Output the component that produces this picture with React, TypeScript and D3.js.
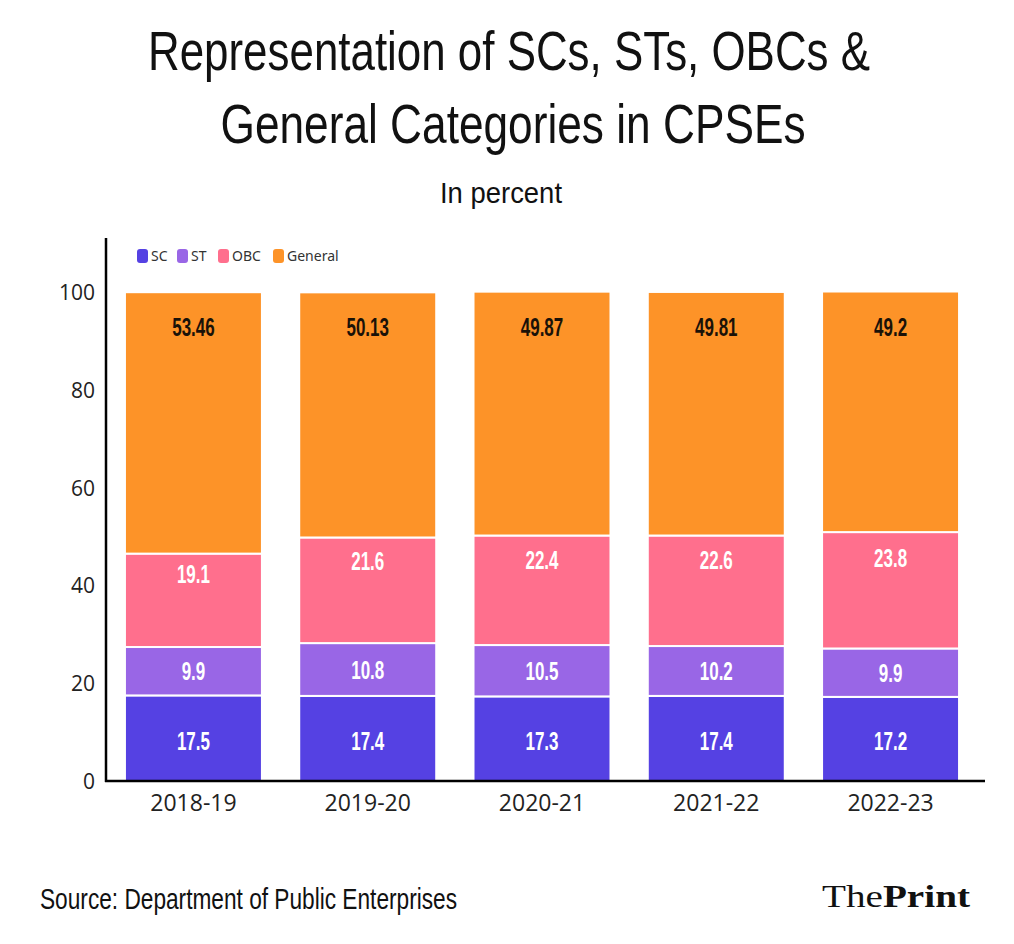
import React from "react";
import * as d3 from "d3";

const years = ["2018-19", "2019-20", "2020-21", "2021-22", "2022-23"];
const seriesNames = ["SC", "ST", "OBC", "General"];
const scValues = [17.5, 17.4, 17.3, 17.4, 17.2];
const stValues = [9.9, 10.8, 10.5, 10.2, 9.9];
const obcValues = [19.1, 21.6, 22.4, 22.6, 23.8];
const generalValues = [53.46, 50.13, 49.87, 49.81, 49.2];
const yTicks = [0, 20, 40, 60, 80, 100];
const colors = ["#5541e3", "#9966e6", "#ff6f8d", "#fd9328"];

const W = 1014;
const H = 944;
const left = 106;
const right = 985;
const top = 238;
const bottom = 781;

const sans = "'Liberation Sans', Arial, sans-serif";
const tickFont = "'Open Sans', 'Noto Sans', sans-serif";

export default function App() {
  const data = years.map((y, i) => ({
    year: y,
    SC: scValues[i],
    ST: stValues[i],
    OBC: obcValues[i],
    General: generalValues[i],
  }));
  const stack = d3.stack<any>().keys(seriesNames);
  const layers = stack(data);

  const x = d3.scaleBand().domain(years).range([107, 977]).paddingInner(0.214).paddingOuter(0.103);
  const y = d3.scaleLinear().domain([0, 100]).range([bottom, 292]);

  const legendX = [137, 177, 218, 273];

  return (
    <svg width={W} height={H} style={{ position: "absolute", left: 0, top: 0, background: "#fff" }}>
      <rect x={0} y={0} width={W} height={H} fill="#fff" />
      <text x={509} y={70} textAnchor="middle" fontFamily={sans} fontSize={55} fill="#111"
        textLength={722} lengthAdjust="spacingAndGlyphs">
        Representation of SCs, STs, OBCs &amp;
      </text>
      <text x={513} y={143} textAnchor="middle" fontFamily={sans} fontSize={55} fill="#111"
        textLength={585} lengthAdjust="spacingAndGlyphs">
        General Categories in CPSEs
      </text>
      <text x={501} y={203} textAnchor="middle" fontFamily={sans} fontSize={30} fill="#111"
        textLength={122} lengthAdjust="spacingAndGlyphs">
        In percent
      </text>

      {/* legend */}
      {seriesNames.map((s, i) => {
        const lx = legendX[i];
        return (
          <g key={s}>
            <rect x={lx} y={249} width={11} height={14} rx={3} fill={colors[i]} />
            <text x={lx + 14} y={261} fontFamily="'Noto Sans', sans-serif" fontSize={14} fill="#333">
              {s}
            </text>
          </g>
        );
      })}

      {/* bars */}
      {layers.map((layer, li) => (
        <g key={layer.key}>
          {layer.map((d, i) => {
            const x0 = x(years[i])!;
            const y0 = y(d[1]);
            const y1 = y(d[0]);
            return (
              <rect key={i} x={x0} y={y0} width={x.bandwidth()} height={y1 - y0} fill={colors[li]} stroke="#fff" strokeWidth={2} />
            );
          })}
        </g>
      ))}
      {layers.map((layer, li) => (
        <g key={"l" + layer.key}>
          {layer.map((d, i) => {
            const cx = x(years[i])! + x.bandwidth() / 2;
            const v = (d.data as any)[layer.key];
            const yt = y(d[1]);
            const yb = y(d[0]);
            const fracs = [0.53, 0.5, 0.22, 0];
            const center = li === 3 ? yt + 35 : yt + (yb - yt) * fracs[li];
            return (
              <g key={i} transform={`translate(${cx},${center + 9}) scale(0.68,1)`}>
                <text x={0} y={0} textAnchor="middle" fontFamily={sans} fontWeight="bold" fontSize={25}
                  fill={li === 3 ? "#1a1208" : "#fff"}>
                  {String(v)}
                </text>
              </g>
            );
          })}
        </g>
      ))}

      {/* axes */}
      <line x1={left} y1={top} x2={left} y2={bottom + 1} stroke="#000" strokeWidth={2.5} />
      <line x1={left - 1} y1={bottom} x2={right} y2={bottom} stroke="#000" strokeWidth={2.5} />
      {yTicks.map((t) => (
        <text key={t} x={95} y={y(t) + 8} textAnchor="end" fontFamily={tickFont} fontSize={21} fill="#222">
          {t}
        </text>
      ))}
      {years.map((yr) => (
        <text key={yr} x={x(yr)! + x.bandwidth() / 2} y={811} textAnchor="middle" fontFamily={tickFont} fontSize={23} fill="#222">
          {yr}
        </text>
      ))}

      <text x={40} y={909} fontFamily={sans} fontSize={30} fill="#111" textLength={417} lengthAdjust="spacingAndGlyphs">
        Source: Department of Public Enterprises
      </text>
      <text x={822} y={907} fontFamily="'Liberation Serif', 'DejaVu Serif', serif" fontSize={31} fill="#111"
        textLength={148} lengthAdjust="spacingAndGlyphs">
        The<tspan fontWeight="bold">Print</tspan>
      </text>
    </svg>
  );
}
